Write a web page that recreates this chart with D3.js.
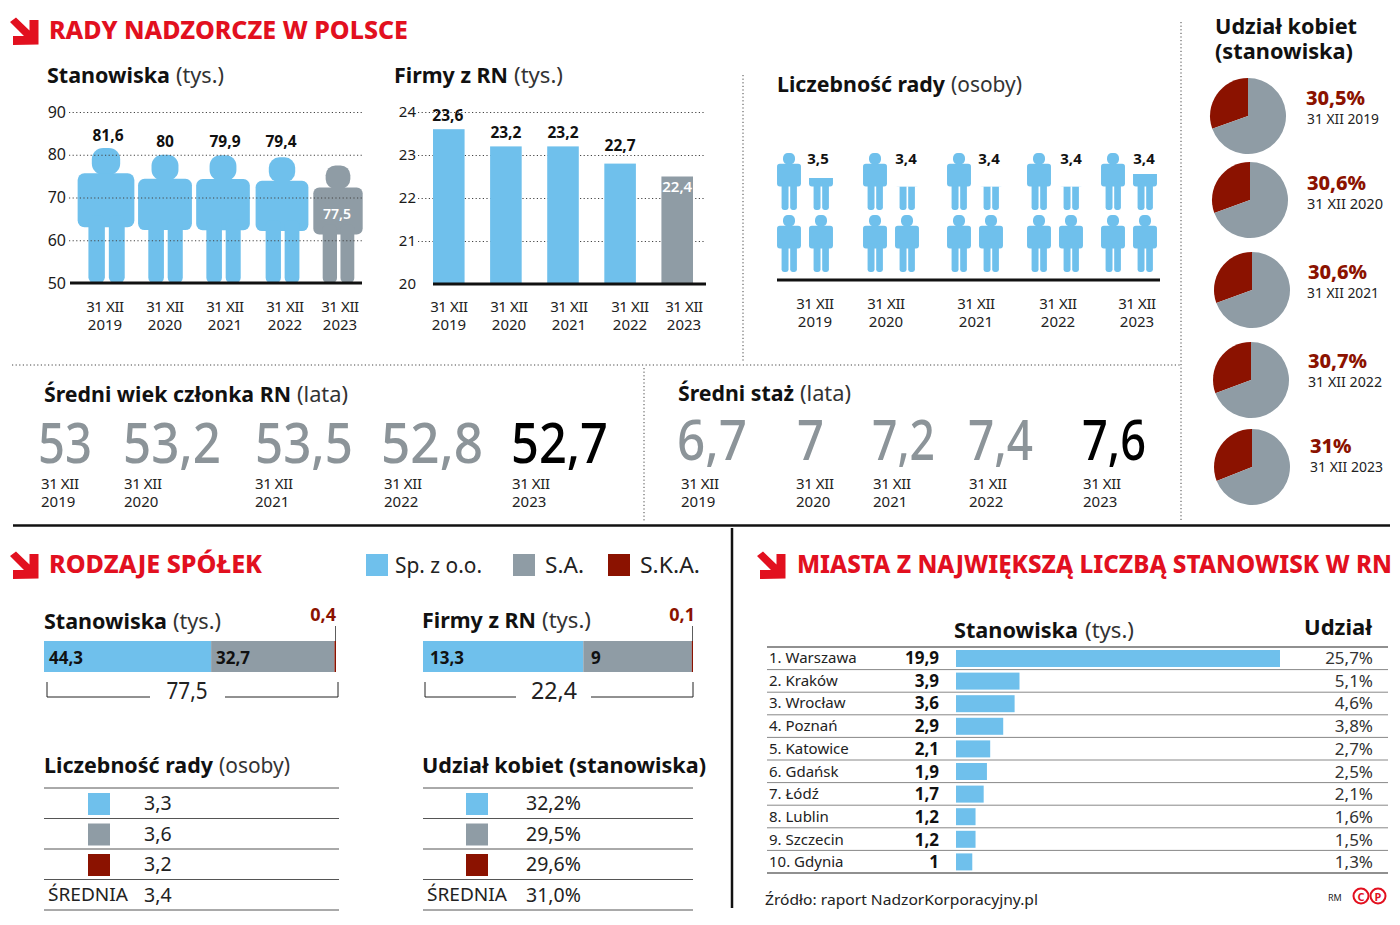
<!DOCTYPE html>
<html lang="pl"><head><meta charset="utf-8">
<script src="https://cdn.jsdelivr.net/npm/d3@7/dist/d3.min.js"></script>
<style>html,body{margin:0;background:#fff}svg{display:block}text{font-family:"Noto Sans",sans-serif}</style>
</head><body><svg id="c" width="1400" height="925"></svg>
<script>
const yearsLong=["2019","2020","2021","2022","2023"];
const stanowiska=[81.6,80,79.9,79.4,77.5];
const stanowiskaLabels=["81,6","80","79,9","79,4","77,5"];
const firmy=[23.6,23.2,23.2,22.8,22.5];
const firmyLabels=["23,6","23,2","23,2","22,7","22,4"];
const radaDrawn=[3.56,3.41,3.41,3.41,3.63];
const radaLabels=["3,5","3,4","3,4","3,4","3,4"];
const wiekLabels=["53","53,2","53,5","52,8","52,7"];
const stazLabels=["6,7","7","7,2","7,4","7,6"];
const kobiety=[30.5,30.6,30.6,30.7,31];
const kobietyLabels=["30,5%","30,6%","30,6%","30,7%","31%"];
const typy=["Sp. z o.o.","S.A.","S.K.A."];
const typyStanowiska=[44.3,32.7,0.4];
const typyFirmy=[13.3,9,0.1];
const typyStanowiskaLabels=["44,3","32,7","0,4"];
const typyFirmyLabels=["13,3","9","0,1"];
const typyRada=["3,3","3,6","3,2"];
const typyKobiety=["32,2%","29,5%","29,6%"];
const miasta=["1. Warszawa","2. Kraków","3. Wrocław","4. Poznań","5. Katowice","6. Gdańsk","7. Łódź","8. Lublin","9. Szczecin","10. Gdynia"];
const miastaStanowiska=[19.9,3.9,3.6,2.9,2.1,1.9,1.7,1.2,1.2,1];
const miastaLabels=["19,9","3,9","3,6","2,9","2,1","1,9","1,7","1,2","1,2","1"];
const miastaUdzial=["25,7%","5,1%","4,6%","3,8%","2,7%","2,5%","2,1%","1,6%","1,5%","1,3%"];

const BLUE="#6fc0ec",GRAY="#8f9ca5",DARK="#8b1200",RED="#e2101f",INK="#1a1a1a",NUM="#8c9499";
const svg=d3.select("#c");

function t(x,y,s,o={}){
  const n=svg.append("text").attr("x",x).attr("y",y).text(s)
    .attr("font-size",o.size||15).attr("font-weight",o.weight||400)
    .attr("fill",o.fill||INK).attr("text-anchor",o.anchor||"start");
  if(o.w){n.attr("textLength",o.w).attr("lengthAdjust","spacingAndGlyphs");}
  return n;
}
function title(y,bold,x0,x1,light,x2,x3,size=22){
  t(x0,y,bold,{size,weight:700,w:x1-x0,fill:"#111"});
  if(light)t(x2,y,light,{size,w:x3-x2,fill:"#333"});
}
function date(x,y,year,anchor="middle"){
  const n=svg.append("text").attr("font-size",15).attr("fill","#222").attr("text-anchor",anchor);
  n.append("tspan").attr("x",x).attr("y",y).attr("letter-spacing",-.4).text("31 XII");
  n.append("tspan").attr("x",x).attr("y",y+18).text(year);
}
function dotted(x1,y1,x2,y2){
  svg.append("line").attr("x1",x1).attr("y1",y1).attr("x2",x2).attr("y2",y2)
    .attr("stroke","#444").attr("stroke-width",1).attr("stroke-dasharray","1.2 2.4");
}
function solid(x1,y1,x2,y2,w=1,c="#222"){
  svg.append("line").attr("x1",x1).attr("y1",y1).attr("x2",x2).attr("y2",y2).attr("stroke",c).attr("stroke-width",w);
}
function arrow(dx,dy){
  const pts=[[10,22],[16,17.5],[29.5,30.5],[29.5,20],[38.5,20],[38.5,44.5],[13,45],[13,36],[24,36]];
  svg.append("polygon").attr("points",pts.map(p=>[p[0]+dx,p[1]+dy].join(",")).join(" ")).attr("fill",RED);
}
let clipN=0;
function person(cx,top,bottom,color,keep=1){
  const h=bottom-top,w=h*.42,x0=cx-w/2,g=svg.append("g");
  if(keep<1){
    const id="cp"+(clipN++);
    svg.append("clipPath").attr("id",id).append("rect")
      .attr("x",x0-2).attr("y",bottom-h*keep).attr("width",w+4).attr("height",h*keep+1);
    g.attr("clip-path",`url(#${id})`);
  }
  const r=(x,y,ww,hh,rx)=>g.append("rect").attr("x",x0+x*w).attr("y",top+y*h).attr("width",ww*w).attr("height",hh*h).attr("rx",rx*w).attr("fill",color);
  r(.25,0,.5,.2,.2);
  r(0,.187,1,.4,.12);
  r(.19,.5,.29,.5,.1);
  r(.55,.5,.28,.5,.1);
}

/* headers */
arrow(0,0);
t(49,39,"RADY NADZORCZE W POLSCE",{size:24,weight:800,fill:RED,w:359});
title(83,"Stanowiska",47,170,"(tys.)",176,224);
title(83,"Firmy z RN",394,508,"(tys.)",514,563);
title(92,"Liczebność rady",777,945,"(osoby)",951,1022);
title(402,"Średni wiek członka RN",44,291,"(lata)",297,348);
title(401,"Średni staż",678,794,"(lata)",800,851);
t(1215,34,"Udział kobiet",{size:22,weight:700,w:142,fill:"#111"});
t(1215,59,"(stanowiska)",{size:22,weight:700,w:138,fill:"#111"});

/* chart 1: people */
const y1=d3.scaleLinear().domain([50,90]).range([283,112]);
const x1=d3.scaleOrdinal().domain(yearsLong).range([106,165,223,282,338]);
const date1=d3.scaleOrdinal().domain(yearsLong).range([105,165,225,285,340]);
yearsLong.forEach((yr,i)=>{
  person(x1(yr),y1(stanowiska[i]),y1(50),i<4?BLUE:GRAY);
  date(date1(yr),312,yr);
});
function gridAxis(scale,x,len,ticks,size,pad){
  const g=svg.append("g").attr("transform",`translate(${x},0)`)
    .call(d3.axisLeft(scale).tickValues(ticks).tickSize(-len).tickPadding(pad).tickFormat(d3.format("d")));
  g.select(".domain").remove();
  g.selectAll(".tick line").attr("stroke","#444").attr("stroke-dasharray","1.2 2.4");
  g.selectAll("text").attr("font-size",size).attr("fill",INK).style("font-family",'"Noto Sans",sans-serif');
  g.selectAll(".tick").filter((d,i)=>i===0).select("line").remove();
}
gridAxis(y1,69,293,[50,60,70,80,90],16,3);
solid(70,283,362,283,3,"#111");
[108,165,225,281].forEach((x,i)=>t(x,i?147:141,stanowiskaLabels[i],{size:15.5,weight:700,anchor:"middle",fill:"#111"}));
t(337,219,stanowiskaLabels[4],{size:14,weight:600,anchor:"middle",fill:"#fff"});

/* chart 2: bars */
const y2=d3.scaleLinear().domain([20,24]).range([284,112]);
const x2=d3.scaleBand().domain(yearsLong).range([433,693]).paddingInner(.447).paddingOuter(0);
gridAxis(y2,418,286,[20,21,22,23,24],15,2);
svg.append("g").selectAll("rect").data(firmy).join("rect")
  .attr("x",(d,i)=>x2(yearsLong[i])).attr("width",x2.bandwidth())
  .attr("y",d=>y2(d)).attr("height",d=>y2(20)-y2(d))
  .attr("fill",(d,i)=>i<4?BLUE:GRAY);
solid(433,284,706,284,3,"#111");
firmy.forEach((d,i)=>{
  const cx=x2(yearsLong[i])+x2.bandwidth()/2;
  if(i<4)t(cx+(i==0?-1:0),y2(d)-(i==3?13:8),firmyLabels[i],{size:15.5,weight:700,anchor:"middle",fill:"#111"});
  else t(cx,192,firmyLabels[i],{size:15,weight:600,anchor:"middle",fill:"#fff"});
});
const date2=d3.scaleOrdinal().domain(yearsLong).range([449,509,569,630,684]);
yearsLong.forEach(yr=>date(date2(yr),312,yr));

/* chart 3: counted people */
const leftCol=d3.scaleOrdinal().domain(yearsLong).range([789,875,959,1039,1113]);
const date3=d3.scaleOrdinal().domain(yearsLong).range([815,886,976,1058,1137]);
const valueX=d3.scaleOrdinal().domain(yearsLong).range([818,906,989,1071,1144]);
yearsLong.forEach((yr,i)=>{
  const v=radaDrawn[i],cols=[0,1,0,1],rows=[0,0,1,1];
  d3.range(Math.ceil(v)).forEach(k=>{
    const cx=leftCol(yr)+cols[k]*32,bottom=272-rows[k]*62;
    person(cx,bottom-57,bottom,BLUE,Math.min(1,v-k));
  });
  t(valueX(yr),164,radaLabels[i],{size:15,weight:700,anchor:"middle",fill:"#111"});
  date(date3(yr),309,yr);
});
solid(777,280,1160,280,3,"#111");

/* big numbers */
const wiekX=[[38,54],[123,98],[255,98],[381,102],[511,97]];
const wiekD=[41,124,255,384,512];
wiekLabels.forEach((s,i)=>{
  t(wiekX[i][0],463,s,{size:56,weight:500,fill:i<4?NUM:"#000",w:wiekX[i][1]});
  date(wiekD[i],489,yearsLong[i],"start");
});
const stazX=[[677,70],[797,27],[872,63],[968,65],[1082,64]];
const stazD=[681,796,873,969,1083];
stazLabels.forEach((s,i)=>{
  t(stazX[i][0],460,s,{size:56,weight:500,fill:i<4?NUM:"#000",w:stazX[i][1]});
  date(stazD[i],489,yearsLong[i],"start");
});

/* pies */
const pieCentre=[[1248,116],[1250,200],[1252,290],[1251,380],[1252,467]];
const pieText=[[1306,105],[1307,190],[1308,279],[1308,368],[1310,453]];
const pieDate=[[1307,72],[1307,76],[1307,72],[1308,74],[1310,73]];
const arc=d3.arc().innerRadius(0).outerRadius(38);
kobiety.forEach((p,i)=>{
  const a=-2*Math.PI*p/100;
  const pie=d3.pie().sort(null).startAngle(a).endAngle(a+2*Math.PI);
  svg.append("g").attr("transform",`translate(${pieCentre[i]})`)
    .selectAll("path").data(pie([p,100-p])).join("path")
    .attr("d",arc).attr("fill",(d,j)=>j?GRAY:DARK);
  t(pieText[i][0],pieText[i][1],kobietyLabels[i],{size:20,weight:800,fill:DARK});
  t(pieDate[i][0],pieText[i][1]+18.5,"31 XII "+yearsLong[i],{size:15,fill:"#222",w:pieDate[i][1]});
});

/* separators */
dotted(743,75,743,362);
dotted(12,365,1180,365);
dotted(1181,22,1181,522);
dotted(644,368,644,522);
solid(13,525.5,1390,525.5,2.5,"#111");
solid(732,528,732,908,2.5,"#111");

/* company types */
arrow(0,534);
t(49,573,"RODZAJE SPÓŁEK",{size:24,weight:800,fill:RED,w:213});
const typeColor=d3.scaleOrdinal().domain(typy).range([BLUE,GRAY,DARK]);
const legSw=[366,513,608],legTx=[395,545,640],legW=[87,39,60];
typy.forEach((n,i)=>{
  svg.append("rect").attr("x",legSw[i]).attr("y",554).attr("width",22).attr("height",22).attr("fill",typeColor(n));
  t(legTx[i],573,n,{size:21,fill:"#222",w:legW[i]});
});
title(629,"Stanowiska",44,167,"(tys.)",173,221);
title(628,"Firmy z RN",422,536,"(tys.)",542,591);
function stack(vals,labels,x0,x1,labelX,hangX,bl,br,sumText,sumX,sumW){
  const sc=d3.scaleLinear().domain([0,d3.sum(vals)]).range([x0,x1]);
  let acc=0;
  vals.forEach((v,i)=>{
    svg.append("rect").attr("x",sc(acc)).attr("y",641).attr("width",Math.max(sc(acc+v)-sc(acc),1.2)).attr("height",31).attr("fill",typeColor(typy[i]));
    acc+=v;
  });
  t(labelX[0],664,labels[0],{size:17,weight:700,fill:"#111"});
  t(labelX[1],664,labels[1],{size:17,weight:700,fill:"#111"});
  t(hangX,621,labels[2],{size:18,weight:700,fill:DARK,anchor:"end"});
  solid(x1-.5,626,x1-.5,641,.8,"#333");
  solid(bl[0],682,bl[0],697,1); solid(bl[0],697,bl[1],697,1);
  solid(br[0],697,br[1],697,1); solid(br[1],682,br[1],697,1);
  t(sumX-sumW/2,699,sumText,{size:24,fill:"#222",w:sumW});
}
stack(typyStanowiska,typyStanowiskaLabels,44,336,[49,216],336,[47,150],[225,338],"77,5",187,41);
stack(typyFirmy,typyFirmyLabels,423,693,[430,591],695,[425,516],[591,693],"22,4",554,46);

title(773,"Liczebność rady",44,213,"(osoby)",219,290);
t(422,773,"Udział kobiet (stanowiska)",{size:22,weight:700,w:284,fill:"#111"});
function table(x0,x1,swX,valX,vals,avg){
  const rows=[...typy,"ŚREDNIA"];
  const y=d3.scaleBand().domain(rows).range([788,910]);
  solid(x0,788,x1,788,1,"#555");
  rows.forEach((r,i)=>{
    solid(x0,y(r)+y.bandwidth(),x1,y(r)+y.bandwidth(),1,"#555");
    if(i<3)svg.append("rect").attr("x",swX-11).attr("y",y(r)+5).attr("width",22).attr("height",22).attr("fill",typeColor(r));
    else t(x0+4,y(r)+21,"ŚREDNIA",{size:18,fill:"#222",w:80});
    t(valX,y(r)+22,i<3?vals[i]:avg,{size:19.5,fill:"#222"});
  });
}
table(44,339,99,144,typyRada,"3,4");
table(423,693,477,526,typyKobiety,"31,0%");

/* cities */
arrow(747,534);
t(797,573,"MIASTA Z NAJWIĘKSZĄ LICZBĄ STANOWISK W RN",{size:24,weight:800,fill:RED,w:595});
title(638,"Stanowiska",954,1078,"(tys.)",1085,1134);
t(1304,635,"Udział",{size:22,weight:700,w:68,fill:"#111"});
const rowY=d3.scaleBand().domain(miasta).range([647,873]);
const barX=d3.scaleLinear().domain([0,19.9]).range([956,1280]);
solid(767,647,1388,647,1.2,"#222");
miasta.forEach((m,i)=>{
  const top=rowY(m),b=rowY.bandwidth();
  solid(767,top+b,1388,top+b,i===9?1.2:1,i===9?"#222":"#888");
  t(769,top+16+(i*.1),m,{size:15,fill:"#222"});
  t(939,top+17+(i*.1),miastaLabels[i],{size:17,weight:700,anchor:"end",fill:"#111"});
  svg.append("rect").attr("x",barX(0)).attr("y",top+3).attr("height",17)
    .attr("width",barX(miastaStanowiska[i])-barX(0)).attr("fill",BLUE);
  t(1373,top+17+(i*.1),miastaUdzial[i],{size:17,anchor:"end",fill:"#333"});
});
t(765,905,"Źródło: raport NadzorKorporacyjny.pl",{size:15,fill:"#222",w:273});
t(1328,901,"RM",{size:9,fill:"#222"});
[1361,1378].forEach((cx,i)=>{
  svg.append("circle").attr("cx",cx).attr("cy",896).attr("r",7.5).attr("fill","none").attr("stroke",RED).attr("stroke-width",2);
  t(cx,900.5,i?"P":"C",{size:11,weight:700,fill:RED,anchor:"middle"});
});
</script></body></html>
